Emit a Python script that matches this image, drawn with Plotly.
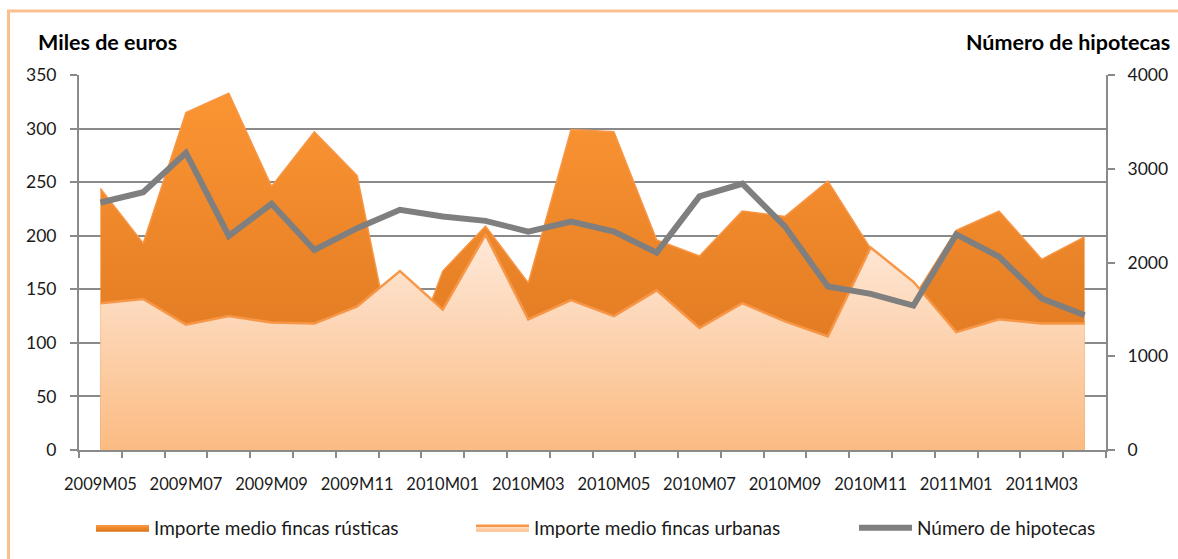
import plotly.graph_objects as go

months = ["2009M05", "2009M06", "2009M07", "2009M08", "2009M09", "2009M10", "2009M11", "2009M12",
          "2010M01", "2010M02", "2010M03", "2010M04", "2010M05", "2010M06", "2010M07", "2010M08",
          "2010M09", "2010M10", "2010M11", "2010M12", "2011M01", "2011M02", "2011M03", "2011M04"]

rusticas = [244, 193, 315, 333, 246, 297, 256, 60,
            167, 209, 156, 299, 297, 196, 181, 223,
            218, 251, 188, 142, 205, 223, 178, 199]

urbanas = [137, 141, 117, 125, 119, 118, 134, 167,
           131, 201, 122, 140, 125, 149, 114, 137,
           120, 106, 189, 157, 110, 122, 118, 118]

hipotecas = [2640, 2750, 3170, 2284, 2626, 2134, 2366, 2562,
             2490, 2444, 2330, 2437, 2330, 2105, 2705, 2840,
             2383, 1745, 1665, 1540, 2300, 2062, 1616, 1438]

tick_labels = months[::2]

idx = list(range(len(months)))

W, H = 1178, 559
ML, MR, MT, MB = 79, 72, 75, 109
PW = W - ML - MR
PH = H - MT - MB


def px_x(p):
    return (p - ML) / PW


def px_y(p):
    return (H - MB - p) / PH


FONT = "Lato, 'Open Sans', sans-serif"
GRID = "#8a8a8a"
TXT = "#1a1a1a"

fig = go.Figure()

fig.add_trace(go.Scatter(
    x=idx, y=rusticas, name="Importe medio fincas rústicas",
    mode="lines", fill="tozeroy", legend="legend",
    line=dict(color="#F79646", width=1.5),
    fillgradient=dict(type="vertical", start=0, stop=max(rusticas),
                      colorscale=[[0, "#D8711C"], [1, "#FB9533"]]),
    hoverinfo="skip",
))

fig.add_trace(go.Scatter(
    x=idx, y=urbanas, name="Importe medio fincas urbanas",
    mode="lines", fill="tozeroy", legend="legend2",
    line=dict(color="#F79646", width=2.5),
    fillgradient=dict(type="vertical", start=0, stop=max(urbanas),
                      colorscale=[[0, "#FBBB82"], [1, "#FEE9DA"]]),
    hoverinfo="skip",
))

fig.add_trace(go.Scatter(
    x=idx, y=hipotecas, name="Número de hipotecas",
    mode="lines", yaxis="y2", legend="legend3",
    line=dict(color="#7f7f7f", width=6),
    hoverinfo="skip",
))


def leg(px):
    return dict(
        orientation="h", x=px_x(px), y=px_y(528), xanchor="left", yanchor="middle",
        font=dict(family=FONT, size=19, color=TXT),
        itemwidth=53, bgcolor="rgba(0,0,0,0)",
    )


fig.update_layout(
    width=W, height=H,
    margin=dict(l=ML, r=MR, t=MT, b=MB, autoexpand=False),
    paper_bgcolor="white", plot_bgcolor="white",
    font=dict(family=FONT, size=16, color=TXT),
    showlegend=True,
    legend=leg(91),
    legend2=leg(471),
    legend3=leg(854),
    xaxis=dict(
        range=[-0.5, len(months) - 0.5],
        tickmode="array", tickvals=idx[::2], ticktext=tick_labels,
        ticks="", showgrid=False, zeroline=False,
        showline=True, linecolor=GRID, linewidth=2,
        tickfont=dict(family=FONT, size=16.5, color=TXT),
        ticklabelstandoff=18,
        minor=dict(tickmode="array", tickvals=[i - 0.5 for i in idx] + [len(months) - 0.5],
                   ticks="outside", ticklen=6, tickwidth=1.5, tickcolor=GRID, showgrid=False),
    ),
    yaxis=dict(
        range=[0, 350], dtick=50, tick0=0,
        showgrid=True, gridcolor=GRID, gridwidth=1.5,
        zeroline=False, showline=True, linecolor=GRID, linewidth=2,
        ticks="outside", ticklen=7, tickwidth=1.5, tickcolor=GRID,
        ticklabelstandoff=10,
        tickfont=dict(family=FONT, size=17.5, color=TXT),
    ),
    yaxis2=dict(
        range=[0, 4000], dtick=1000, tick0=0,
        overlaying="y", side="right",
        showgrid=False, zeroline=False, showline=True, linecolor=GRID, linewidth=2,
        ticks="outside", ticklen=7, tickwidth=1.5, tickcolor=GRID,
        ticklabelstandoff=9,
        tickfont=dict(family=FONT, size=17.5, color=TXT),
    ),
    annotations=[
        dict(text="<b>Miles de euros</b>", xref="paper", yref="paper",
             x=px_x(36), y=px_y(42), xanchor="left", yanchor="middle",
             showarrow=False, font=dict(family=FONT, size=21.5, color="#000000")),
        dict(text="<b>Número de hipotecas</b>", xref="paper", yref="paper",
             x=px_x(964), y=px_y(42), xanchor="left", yanchor="middle",
             showarrow=False, font=dict(family=FONT, size=21.5, color="#000000")),
    ],
    shapes=[
        dict(type="rect", xref="paper", yref="paper",
             x0=px_x(8.5), x1=px_x(1200), y0=px_y(590), y1=px_y(11),
             line=dict(color="#FAC090", width=3), fillcolor="rgba(0,0,0,0)", layer="below"),
    ],
)

fig.write_html("out.html", config={"displayModeBar": False},
               post_script="document.body.style.margin='0';")
